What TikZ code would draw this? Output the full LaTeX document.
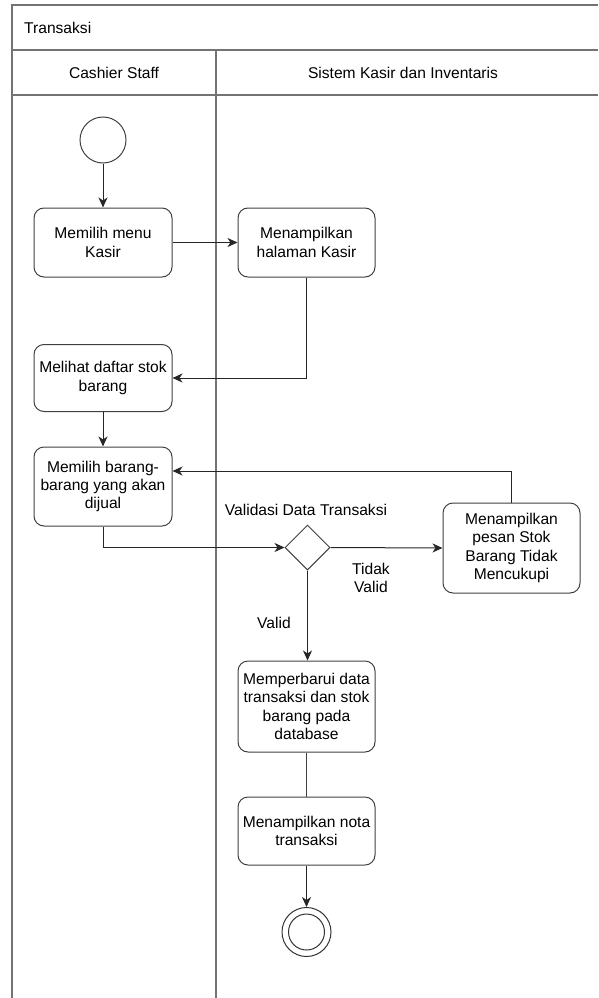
\documentclass[tikz,border=0pt]{standalone}
\usepackage{fontspec}
\setmainfont{Liberation Sans}
\usetikzlibrary{arrows.meta,shapes.geometric,calc}
\begin{document}
\begin{tikzpicture}[x=1pt,y=-1pt,
  font=\fontsize{15.6}{18.3}\selectfont,
  lane/.style={draw=black!55,line width=1.3pt},
  act/.style={draw=black!75,line width=1pt,rounded corners=10pt,align=center,inner sep=0pt},
  flow/.style={draw=black!85,line width=1pt,-{Stealth[length=10pt,width=9pt,inset=3pt]}},
  plain/.style={draw=black!75,line width=1pt},
  lbl/.style={align=center,inner sep=0pt}]
\useasboundingbox (0,0) rectangle (598,998);

% swimlane frame
\draw[lane] (598,5) -- (12,5) -- (12,998);
\draw[lane] (12,50) -- (598,50);
\draw[lane] (12,95) -- (598,95);
\draw[lane] (216,50) -- (216,998);
\node[lbl,anchor=west] (title) at (24,28) {Transaksi};
\node[lbl] (laneA) at (114,73) {Cashier Staff};
\node[lbl] (laneB) at (403,73) {Sistem Kasir dan Inventaris};

% activities
\node[circle,draw=black!75,line width=1pt,minimum size=46pt,inner sep=0pt] (start) at (103,140) {};
\node[act,minimum width=138pt,minimum height=69pt] (menu) at (103,242.5) {Memilih menu\\Kasir};
\node[act,minimum width=137pt,minimum height=69pt] (hal) at (306.5,242.5) {Menampilkan\\halaman Kasir};
\node[act,minimum width=138pt,minimum height=67pt] (stok) at (103,378) {Melihat daftar stok\\barang};
\node[act,minimum width=138pt,minimum height=79pt] (pilih) at (103,486.5) {Memilih barang-\\barang yang akan\\dijual};
\node[diamond,draw=black!75,line width=1pt,minimum width=45pt,minimum height=45pt,inner sep=0pt] (dec) at (307.5,547.5) {};
\node[act,minimum width=137pt,minimum height=90pt] (pesan) at (511.5,548) {Menampilkan\\pesan Stok\\Barang Tidak\\Mencukupi};
\node[act,minimum width=137pt,minimum height=91pt] (update) at (306.5,706.5) {Memperbarui data\\transaksi dan stok\\barang pada\\database};
\node[act,minimum width=137pt,minimum height=68pt] (nota) at (306.5,831) {Menampilkan nota\\transaksi};
\node[circle,draw=black!80,line width=1pt,minimum size=49pt,inner sep=0pt] (end) at (306.5,932) {};
\node[circle,draw=black!80,line width=1pt,minimum size=36pt,inner sep=0pt] (endin) at (end.center) {};

% labels
\node[lbl] (vlabel) at (306,510) {Validasi Data Transaksi};
\node[lbl] (tv) at (371,578) {Tidak\\Valid};
\node[lbl] (vv) at (274,623) {Valid};

% flows
\coordinate (loopy) at (0,471);
\draw[flow] (start) -- (menu);
\draw[flow] (menu) -- (hal);
\draw[flow] (hal.south) |- (stok.east);
\draw[flow] (stok) -- (pilih);
\draw[flow] (pilih.south) |- (dec.west);
\draw[flow] (dec.east) -- (pesan.west);
\draw[flow] (pesan.north) |- (pilih.east |- loopy);
\draw[flow] (dec.south) -- (update.north -| dec.south);
\draw[plain] (update.south) -- (nota.north);
\draw[flow] (nota.south) -- (end.north);
\end{tikzpicture}
\end{document}
